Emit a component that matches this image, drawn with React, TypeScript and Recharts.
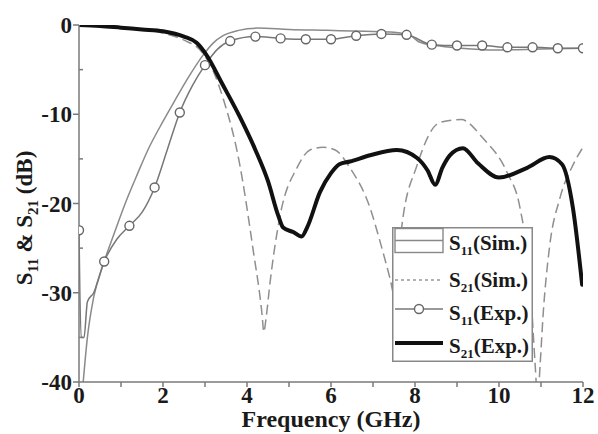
import React from "react";
import { LineChart, Line, XAxis, YAxis, Legend, Label } from "recharts";

// frequency (GHz) / dB pairs
const s11SimF = [0.1, 0.2, 0.35, 0.6, 0.85, 1.1, 1.4, 1.64, 2.0, 2.29, 2.6, 2.95, 3.2, 3.43, 3.8, 4.24, 5.0, 5.9, 6.8, 7.5, 7.9, 8.1, 8.5, 9.1, 9.9, 11, 12];
const s11SimDb = [-40, -35, -30.5, -26.5, -23.2, -20, -16.6, -14, -10.8, -8.4, -5.9, -3.4, -2.0, -1.2, -0.6, -0.35, -0.5, -0.6, -0.7, -0.8, -1.2, -1.9, -2.3, -2.6, -2.8, -2.7, -2.6];

const s21SimF = [0, 1, 2, 2.5, 2.9, 3.2, 3.43, 3.83, 4.14, 4.36, 4.4, 4.45, 4.55, 4.79, 5.19, 5.5, 5.81, 6.1, 6.45, 6.93, 7.17, 7.4, 7.55, 7.69, 8.05, 8.6, 9.1, 9.62, 10.19, 10.5, 10.74, 10.86, 10.92, 10.98, 11.05, 11.2, 11.45, 11.76, 12];
const s21SimDb = [-0.05, -0.3, -0.9, -1.7, -2.9, -5.2, -8.2, -15.7, -25, -32.5, -34.4, -33, -28.8, -21.3, -16, -14, -13.7, -14, -16, -20.5, -24.3, -28.3, -31, -22.4, -15.7, -10.9, -10.6, -12.7, -16.5, -20.5, -28.8, -38, -42, -38, -32.5, -25, -19.4, -15.7, -13.7];

const s11ExpF = [0, 0.05, 0.12, 0.2, 0.35, 0.6, 0.9, 1.2, 1.5, 1.8, 2.1, 2.4, 2.7, 3.0, 3.3, 3.6, 4.2, 4.8, 5.4, 6.0, 6.6, 7.2, 7.8, 8.4, 9.0, 9.6, 10.2, 10.8, 11.4, 12];
const s11ExpDb = [-23, -35, -35, -31, -30, -26.5, -24, -22.5, -21, -18.2, -14, -9.8, -6.8, -4.5, -2.7, -1.8, -1.3, -1.5, -1.6, -1.6, -1.2, -1.0, -1.1, -2.2, -2.3, -2.3, -2.5, -2.5, -2.6, -2.6];
const s11ExpMarks = [0, 0.6, 1.2, 1.8, 2.4, 3.0, 3.6, 4.2, 4.8, 5.4, 6.0, 6.6, 7.2, 7.8, 8.4, 9.0, 9.6, 10.2, 10.8, 11.4, 12];

const s21ExpF = [0, 0.5, 1, 1.5, 2, 2.5, 2.8, 3.04, 3.4, 3.83, 4.2, 4.5, 4.74, 4.86, 5.1, 5.3, 5.43, 5.74, 6.0, 6.2, 6.45, 6.93, 7.57, 8.05, 8.3, 8.48, 8.65, 8.83, 9.14, 9.5, 10.0, 10.67, 11.2, 11.5, 11.76, 11.98];
const s21ExpDb = [0, -0.1, -0.3, -0.5, -0.7, -1.3, -2.0, -3.4, -6.5, -10.3, -14, -17.5, -21.3, -22.7, -23.2, -23.7, -22.7, -18.7, -16.6, -15.6, -15.3, -14.6, -14.0, -14.9, -16.3, -17.9, -16.0, -14.6, -13.8, -15.5, -17.1, -16.0, -14.8, -15.6, -20.5, -29.1];

const xTicks = [0, 1, 2, 3, 4, 5, 6, 7, 8, 9, 10, 11, 12];
const yTicks = [-40, -35, -30, -25, -20, -15, -10, -5, 0];
const yMajor = [-40, -30, -20, -10, 0];

const zip = (f: number[], d: number[]) => f.map((x, i) => ({ x, y: d[i] }));

const FONT = "Liberation Serif";
const AXIS = "#7a7a7a";

const ringDot = (p: any) => {
  const { cx, cy, payload, index } = p;
  if (!s11ExpMarks.includes(payload.x)) return <g key={"d" + index} />;
  return <circle key={"d" + index} cx={cx} cy={cy} r={4.5} fill="#fff" stroke="#666" strokeWidth={1.4} />;
};

// y ticks: majors get an outside tick + label, minors a short inside tick
const YTick = (p: any) => {
  const { x, y, payload } = p;
  const ax = x + 7;
  const major = yMajor.includes(payload.value);
  return (
    <g>
      {major ? (
        <>
          <line x1={ax - 6} x2={ax} y1={y} y2={y} stroke={AXIS} strokeWidth={1.5} />
          <text x={x} y={y} dy="0.35em" textAnchor="end" style={{ fontFamily: FONT, fontWeight: "bold", fontSize: 23 }} fill="#1a1a1a">
            {payload.value}
          </text>
        </>
      ) : (
        <line x1={ax} x2={ax + 4} y1={y} y2={y} stroke={AXIS} strokeWidth={1.5} />
      )}
    </g>
  );
};

const Sname = ({ x, y, sub, rest }: { x: number; y: number; sub: string; rest: string }) => (
  <text x={x} y={y} style={{ fontFamily: FONT, fontWeight: "bold", fontSize: 21 }} fill="#1a1a1a">
    S
    <tspan style={{ fontSize: 13 }} dy={5}>{sub}</tspan>
    <tspan dy={-5}>{rest}</tspan>
  </text>
);

const LegendBox = () => (
  <svg width={141} height={135} style={{ display: "block", background: "#fff" }}>
    <rect x={0.75} y={0.75} width={139.5} height={133.5} fill="#fff" stroke="#888" strokeWidth={1.5} />
    <rect x={3} y={1.5} width={48} height={24} fill="none" stroke="#888" strokeWidth={1.4} />
    <line x1={3} x2={51} y1={13.5} y2={13.5} stroke="#888" strokeWidth={1.4} />
    <Sname x={57} y={23} sub="11" rest="(Sim.)" />
    <line x1={3} x2={51} y1={53} y2={53} stroke="#999" strokeWidth={1.4} strokeDasharray="3 3" />
    <Sname x={57} y={60} sub="21" rest="(Sim.)" />
    <line x1={3} x2={51} y1={82} y2={82} stroke="#777" strokeWidth={1.4} />
    <circle cx={27} cy={82} r={4.5} fill="#fff" stroke="#666" strokeWidth={1.4} />
    <Sname x={57} y={93} sub="11" rest="(Exp.)" />
    <line x1={3} x2={51} y1={116} y2={116} stroke="#111" strokeWidth={4} />
    <Sname x={57} y={126} sub="21" rest="(Exp.)" />
  </svg>
);

const XTitle = (props: any) => {
  const vb = props.viewBox || { x: 79, y: 382, width: 504 };
  return (
    <text x={vb.x + vb.width / 2} y={vb.y + 45} textAnchor="middle" style={{ fontFamily: FONT, fontWeight: "bold", fontSize: 24 }} fill="#1a1a1a">
      Frequency (GHz)
    </text>
  );
};

const YTitle = () => (
  <text x={32} y={218} transform="rotate(-90, 32, 218)" textAnchor="middle" style={{ fontFamily: FONT, fontWeight: "bold", fontSize: 23 }} fill="#1a1a1a">
    S<tspan style={{ fontSize: 15 }} dy={6}>11</tspan>
    <tspan dy={-6}> &amp; S</tspan>
    <tspan style={{ fontSize: 15 }} dy={6}>21</tspan>
    <tspan dy={-6}> (dB)</tspan>
  </text>
);

export default function App() {
  const tickStyle = { fontWeight: "bold", fontSize: 23, fill: "#1a1a1a", style: { fontFamily: FONT } };
  return (
    <div style={{ position: "absolute", left: 0, top: 0, width: 598, height: 434, background: "#fff", fontFamily: FONT }}>
      <LineChart width={598} height={434} margin={{ top: 25, right: 15, left: 0, bottom: 0 }}>
        <XAxis
          type="number"
          dataKey="x"
          domain={[0, 12]}
          ticks={xTicks}
          interval={0}
          allowDataOverflow
          tickFormatter={(v: number) => (v % 2 === 0 ? String(v) : "")}
          tick={tickStyle}
          tickSize={5}
          tickMargin={0}
          height={52}
          axisLine={{ stroke: AXIS, strokeWidth: 1.5 }}
          tickLine={{ stroke: AXIS, strokeWidth: 1.5 }}
        >
          <Label content={XTitle} />
        </XAxis>
        <YAxis
          type="number"
          domain={[-40, 0]}
          ticks={yTicks}
          interval={0}
          allowDataOverflow
          tick={YTick}
          tickLine={false}
          tickSize={6}
          tickMargin={1}
          width={79}
          axisLine={{ stroke: AXIS, strokeWidth: 1.5 }}
        >
          <Label content={YTitle} />
        </YAxis>
        <Line data={zip(s21SimF, s21SimDb)} dataKey="y" type="monotone" stroke="#8f8f8f" strokeWidth={1.5} strokeDasharray="10 5" dot={false} isAnimationActive={false} />
        <Line data={zip(s11SimF, s11SimDb)} dataKey="y" type="monotone" stroke="#8a8a8a" strokeWidth={1.5} dot={false} isAnimationActive={false} />
        <Line data={zip(s11ExpF, s11ExpDb)} dataKey="y" type="monotone" stroke="#777" strokeWidth={1.5} dot={ringDot} isAnimationActive={false} />
        <Line data={zip(s21ExpF, s21ExpDb)} dataKey="y" type="monotone" stroke="#111" strokeWidth={4} strokeLinecap="round" dot={false} isAnimationActive={false} />
        <Legend
          content={LegendBox}
          layout="vertical"
          align="center"
          verticalAlign="middle"
          wrapperStyle={{ left: 392, top: 227, width: 141, height: 135 }}
        />
      </LineChart>
    </div>
  );
}
